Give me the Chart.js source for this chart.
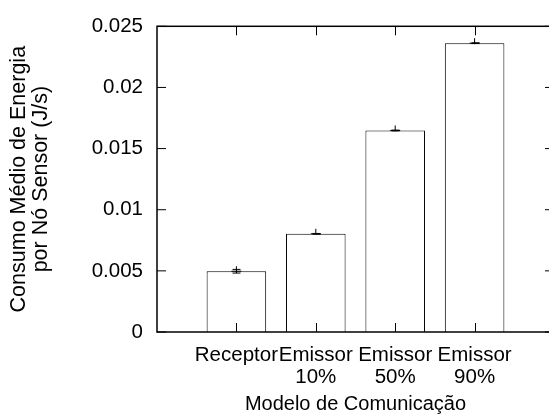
<!DOCTYPE html>
<html>
<head>
<meta charset="utf-8">
<script src="https://cdn.jsdelivr.net/npm/chart.js@4/dist/chart.umd.min.js"></script>
<style>
  html, body { margin: 0; padding: 0; background: #fff; overflow: hidden; }
  #wrap { width: 570px; height: 417px; }
</style>
</head>
<body>
<div id="wrap"><canvas id="energyChart"></canvas></div>
<script>
// --- DATA ---
const categories = [['Receptor'], ['Emissor', '10%'], ['Emissor', '50%'], ['Emissor', '90%']];
const energyValues = [0.00497, 0.00803, 0.01648, 0.02362];
const errLow = [0.00482, 0.00800, 0.01645, 0.02359];
const errHigh = [0.00512, 0.00806, 0.01651, 0.02365];
const yTickLabels = ['0', '0.005', '0.01', '0.015', '0.02', '0.025'];

const FONT = "'Liberation Sans', Arial, sans-serif";

// gnuplot style frame, inward ticks and error bars
const framePlugin = {
    id: 'gnuFrame',
    afterDatasetsDraw(chart) {
        const { ctx, chartArea: a, scales } = chart;
        const tick = 9;
        ctx.save();
        ctx.strokeStyle = '#000';
        ctx.lineWidth = 1;

        // error bars
        const xs = scales.x, ys = scales.y;
        energyValues.forEach((v, i) => {
            const px = Math.round(xs.getPixelForValue(i)) + 0.5;
            const lo = ys.getPixelForValue(errLow[i]);
            const hi = ys.getPixelForValue(errHigh[i]);
            ctx.beginPath();
            ctx.moveTo(px, lo); ctx.lineTo(px, hi);
            ctx.moveTo(px - 4, lo); ctx.lineTo(px + 4, lo);
            ctx.moveTo(px - 4, hi); ctx.lineTo(px + 4, hi);
            ctx.stroke();
        });

        ctx.lineWidth = 1.5;
        ctx.strokeRect(a.left, a.top, a.right - a.left, a.bottom - a.top);

        ctx.lineWidth = 1;
        ctx.beginPath();
        yTickLabels.forEach((t, i) => {
            const py = ys.getPixelForValue(i * 0.005);
            ctx.moveTo(a.left, py); ctx.lineTo(a.left + tick, py);
            ctx.moveTo(a.right, py); ctx.lineTo(a.right - tick, py);
        });
        categories.forEach((c, i) => {
            const px = Math.round(xs.getPixelForValue(i)) + 0.5;
            ctx.moveTo(px, a.bottom); ctx.lineTo(px, a.bottom - tick);
            ctx.moveTo(px, a.top); ctx.lineTo(px, a.top + tick);
        });
        ctx.stroke();
        ctx.restore();
    }
};

function initChart() {
    const ctx = document.getElementById('energyChart');

    new Chart(ctx, {
        type: 'bar',
        data: {
            datasets: [{
                label: 'Consumo',
                data: energyValues.map((v, i) => ({ x: i, y: v })),
                backgroundColor: '#ffffff',
                borderColor: '#000000',
                borderWidth: 1,
                barPercentage: 0.75,
                categoryPercentage: 1
            }, {
                type: 'scatter',
                label: 'Erro',
                data: energyValues.map((v, i) => ({ x: i, y: v })),
                pointStyle: 'cross',
                pointRadius: 5,
                borderColor: '#000000',
                borderWidth: 1
            }]
        },
        options: {
            responsive: true,
            maintainAspectRatio: false,
            animation: false,
            layout: { padding: { top: 22, right: 16, left: 0, bottom: 0 } },
            plugins: {
                legend: { display: false },
                tooltip: { enabled: false }
            },
            scales: {
                x: {
                    type: 'linear',
                    min: -1,
                    max: 4,
                    offset: false,
                    grid: { display: false, drawTicks: false, offset: false },
                    border: { display: false },
                    ticks: {
                        stepSize: 1,
                        autoSkip: false,
                        maxRotation: 0,
                        padding: 12,
                        color: '#000',
                        font: { family: FONT, size: 20.5, lineHeight: 1.07 },
                        callback: (value) => categories[value] || ''
                    },
                    title: {
                        display: true,
                        text: 'Modelo de Comunicação',
                        color: '#000',
                        font: { family: FONT, size: 20 },
                        padding: { top: 0, bottom: 1 }
                    },
                    afterFit: (scale) => { scale.height = 85; }
                },
                y: {
                    min: 0,
                    max: 0.025,
                    grid: { display: false, drawTicks: false },
                    border: { display: false },
                    ticks: {
                        stepSize: 0.005,
                        padding: 14,
                        color: '#000',
                        font: { family: FONT, size: 20.5 },
                        callback: (value, index) => yTickLabels[index]
                    },
                    title: {
                        display: true,
                        text: ['Consumo Médio de Energia', 'por Nó Sensor (J/s)'],
                        color: '#000',
                        font: { family: FONT, size: 21.5, lineHeight: 0.98 },
                        padding: { top: 9, bottom: 0 }
                    },
                    afterFit: (scale) => { scale.width = 157; }
                }
            }
        },
        plugins: [framePlugin]
    });
}

document.addEventListener('DOMContentLoaded', initChart);
</script>
</body>
</html>
